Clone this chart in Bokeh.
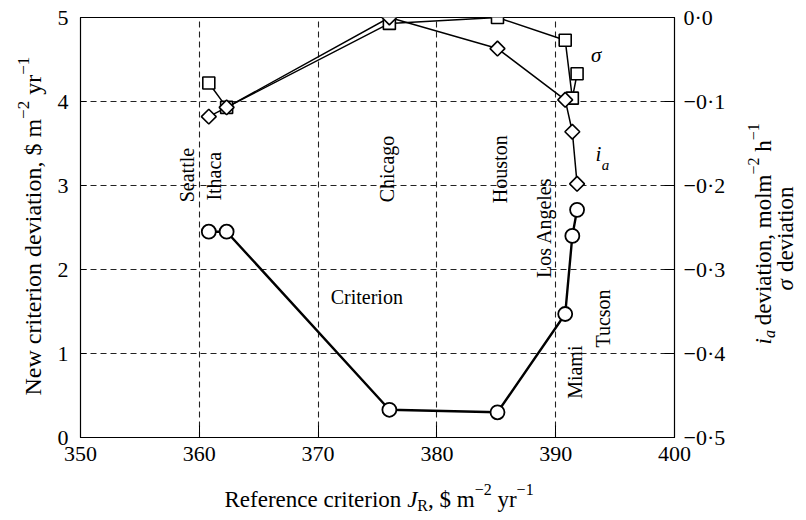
import math
from bokeh.plotting import figure
from bokeh.layouts import row, column
from bokeh.models import (Range1d, LinearAxis, FixedTicker, CustomJSTickFormatter,
                          Label, ColumnDataSource)
from bokeh.core.properties import value
from bokeh.embed import file_html
from bokeh.resources import INLINE

# ---------------- data ----------------
cities = ["Seattle", "Ithaca", "Chicago", "Houston", "Los Angeles", "Miami", "Tucson"]
reference_criterion = [360.8, 362.3, 376.0, 385.1, 390.8, 391.4, 391.8]
criterion_dev = [2.45, 2.45, 0.33, 0.30, 1.47, 2.40, 2.71]
sigma_dev = [-0.078, -0.107, -0.007, 0.0, -0.027, -0.096, -0.067]
ia_dev = [-0.118, -0.107, 0.0, -0.037, -0.098, -0.136, -0.198]

x_ticks = [350, 360, 370, 380, 390, 400]
y_ticks = [0, 1, 2, 3, 4, 5]
right_ticks = [-0.5, -0.4, -0.3, -0.2, -0.1, 0.0]

# anchor of each city name (data coords where the rotated text starts)
city_label_x = [359.0, 361.2, 375.8, 385.3, 389.0, 391.6, 394.0]
city_label_y = [2.80, 2.82, 2.80, 2.79, 1.90, 0.46, 1.07]

FONT = "Liberation Serif"

# Times-like advance widths (1/1000 em) used to chain rich-text pieces
W = {" ": 250, "$": 500, ",": 250, "−": 564, "1": 500, "2": 500,
     "N": 722, "R": 667, "J": 444, "a": 444, "c": 444, "d": 500, "e": 444,
     "f": 333, "h": 500, "i": 278, "l": 278, "m": 778, "n": 500, "o": 500,
     "r": 333, "t": 278, "v": 500, "w": 722, "y": 500, "σ": 550}


def tw(s, size):
    return sum(W.get(c, 500) for c in s) * size / 1000.0


# ---------------- main plot ----------------
p = figure(width=685, height=475, x_range=Range1d(350, 400), y_range=Range1d(0, 5),
           output_backend="svg", toolbar_location=None,
           min_border_left=30, min_border_right=61, min_border_top=17,
           min_border_bottom=38, background_fill_color="white",
           border_fill_color="white")
p.extra_y_ranges = {"r": Range1d(-0.5, 0.0)}

p.outline_line_color = "black"
p.outline_line_width = 1.2

for g in (p.xgrid, p.ygrid):
    g.grid_line_color = "#222222"
    g.grid_line_dash = "6 4"
    g.grid_line_width = 1.1

xa = p.xaxis[0]
xa.ticker = FixedTicker(ticks=x_ticks)
ya = p.yaxis[0]
ya.ticker = FixedTicker(ticks=y_ticks)

ra = LinearAxis(y_range_name="r", ticker=FixedTicker(ticks=right_ticks),
                formatter=CustomJSTickFormatter(code="""
const v = Math.abs(tick) < 1e-9 ? 0 : tick;
const s = Math.abs(v).toFixed(1).replace('.', '\u00b7');
return v < 0 ? '\u2212' + s : s;
"""))
p.add_layout(ra, "right")

for ax, tin, stand in ((xa, 12, 9), (ya, 6, 12), (ra, 10, 9)):
    ax.axis_line_color = "black"
    ax.major_tick_line_color = "black"
    ax.major_tick_in = tin
    ax.major_tick_out = 0
    ax.minor_tick_line_color = None
    ax.major_label_text_font = FONT
    ax.major_label_text_font_size = "22px"
    ax.major_label_text_color = "black"
    ax.major_label_standoff = stand

src = ColumnDataSource(dict(x=reference_criterion, crit=criterion_dev,
                            sig=sigma_dev, ia=ia_dev))

p.line("x", "sig", source=src, y_range_name="r", line_color="black", line_width=1.5)
p.line("x", "ia", source=src, y_range_name="r", line_color="black", line_width=1.5)
p.line("x", "crit", source=src, line_color="black", line_width=2.4)

p.scatter("x", "sig", source=src, y_range_name="r", marker="square", size=12,
          fill_color="white", line_color="black", line_width=1.6)
p.scatter("x", "ia", source=src, y_range_name="r", marker="square", size=10.5,
          angle=math.pi / 4, fill_color="white", line_color="black", line_width=1.6)
p.scatter("x", "crit", source=src, marker="circle", size=14,
          fill_color="white", line_color="black", line_width=1.8)

csrc = ColumnDataSource(dict(lx=city_label_x, ly=city_label_y, name=cities))
p.text(x="lx", y="ly", text="name", source=csrc, angle=math.pi / 2,
       text_font=value(FONT), text_font_size=value("20px"), text_color="black",
       text_align="left", text_baseline="middle")


def lab(fig, **kw):
    base = dict(text_font=FONT, text_color="black")
    base.update(kw)
    fig.add_layout(Label(**base))


lab(p, x=374.1, y=1.67, text="Criterion", text_font_size="20px",
    text_align="center", text_baseline="middle")
lab(p, x=393.4, y=4.55, text="σ", text_font_style="italic", text_font_size="21px",
    text_align="center", text_baseline="middle")
lab(p, x=393.6, y=3.38, text="i", text_font_style="italic", text_font_size="21px",
    text_align="center", text_baseline="middle")
lab(p, x=394.2, y=3.24, text="a", text_font_style="italic", text_font_size="15px",
    text_align="center", text_baseline="middle")


# ---------------- title panels (rich text) ----------------
def panel(w, h):
    f = figure(width=w, height=h, output_backend="svg", toolbar_location=None,
               x_axis_location=None, y_axis_location=None,
               min_border=0, min_border_left=0, min_border_right=0,
               min_border_top=0, min_border_bottom=0,
               x_range=Range1d(0, 1), y_range=Range1d(0, 1),
               background_fill_color="white", border_fill_color="white")
    f.outline_line_color = None
    f.xgrid.visible = False
    f.ygrid.visible = False
    return f


def compose(fig, pieces, x0, y0, rotated=False):
    """pieces: (text, size, style, shift); shift>0 raises (superscript)."""
    pos = 0.0
    for text, size, style, shift in pieces:
        lead = len(text) - len(text.lstrip(" "))
        pos += lead * W[" "] * size / 1000.0
        core = text.strip(" ")
        if core:
            if rotated:
                kw = dict(x=x0 - shift, y=y0 + pos, angle=math.pi / 2)
            else:
                kw = dict(x=x0 + pos, y=y0 + shift)
            lab(fig, x_units="screen", y_units="screen", text=core,
                text_font_size=f"{size}px", text_font_style=style,
                text_align="left", text_baseline="alphabetic", **kw)
        pos += tw(core, size)
        trail = len(text) - len(text.rstrip(" ")) if core else 0
        pos += trail * W[" "] * size / 1000.0


FS = 23
SS = 16

left_panel = panel(50, 520)
compose(left_panel, [("New criterion deviation, $ m", 24, "normal", 0),
                     ("−2", 17, "normal", 10),
                     (" yr", 24, "normal", 0),
                     ("−1", 17, "normal", 10)], 32.5, 125, rotated=True)

bottom_panel = panel(685, 45)
compose(bottom_panel, [("Reference criterion ", FS, "normal", 0),
                       ("J", FS, "italic", 0),
                       ("R", SS, "normal", -6),
                       (", $ m", FS, "normal", 0),
                       ("−2", SS, "normal", 10),
                       (" yr", FS, "normal", 0),
                       ("−1", SS, "normal", 10)], 144, 21.5)

right_panel = panel(71, 520)
compose(right_panel, [("i", FS, "italic", 0),
                      ("a", SS, "italic", -6),
                      (" deviation, molm", FS, "normal", 0),
                      ("−2", SS, "normal", 10),
                      (" h", FS, "normal", 0),
                      ("−1", SS, "normal", 10)], 27.5, 176, rotated=True)
compose(right_panel, [("σ", FS, "italic", 0),
                      (" deviation", FS, "normal", 0)], 50, 230, rotated=True)

layout = row(left_panel, column(p, bottom_panel), right_panel)
open("out.html", "w").write(file_html(layout, INLINE))
